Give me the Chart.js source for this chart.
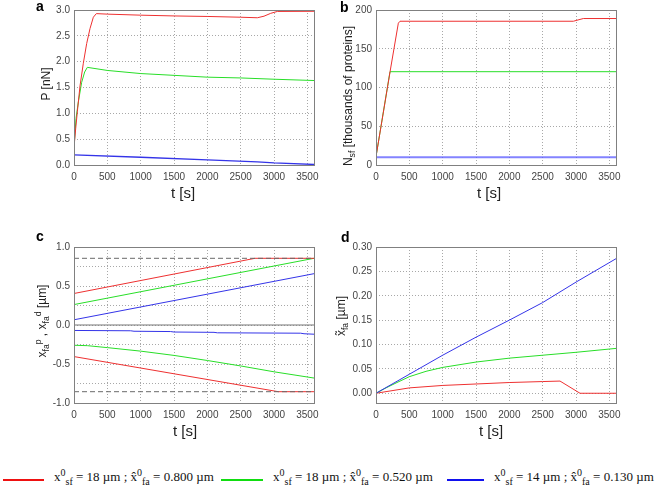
<!DOCTYPE html>
<html><head><meta charset="utf-8">
<script src="https://cdn.jsdelivr.net/npm/chart.js@4/dist/chart.umd.min.js"></script>
<style>
body{margin:0;background:#fff;width:656px;height:485px;position:relative;overflow:hidden;font-family:"Liberation Sans",Arial,sans-serif;}
canvas{position:absolute;}
.lbl{position:absolute;font:bold 14px "Liberation Sans",Arial,sans-serif;color:#000;line-height:16px;}
.xt{position:absolute;font-size:15px;color:#222;transform:translateX(-50%);white-space:nowrap;line-height:17px;}
.yt{position:absolute;font-size:12px;color:#222;white-space:nowrap;line-height:14px;transform:translate(-50%,-50%) rotate(-90deg);}
sub,sup{font-size:72%;line-height:0;}
.legline{position:absolute;height:1.5px;top:479px;}
.legtxt{position:absolute;top:469px;font:13px "Liberation Serif","Times New Roman",serif;line-height:15px;white-space:nowrap;color:#111;}
.legtxt sub,.legtxt sup{font-size:77%;}
</style></head>
<body>
<canvas id="ca" width="328" height="186" style="left:0;top:0"></canvas>
<canvas id="cb" width="310" height="186" style="left:320px;top:0"></canvas>
<canvas id="cc" width="328" height="187" style="left:0;top:237px"></canvas>
<canvas id="cd" width="310" height="187" style="left:320px;top:237px"></canvas>

<div class="lbl" style="left:36px;top:-2px">a</div>
<div class="lbl" style="left:340px;top:-1px">b</div>
<div class="lbl" style="left:36px;top:228px">c</div>
<div class="lbl" style="left:341px;top:229px">d</div>

<div class="xt" style="left:183px;top:184px">t [s]</div>
<div class="xt" style="left:489px;top:184px">t [s]</div>
<div class="xt" style="left:185px;top:422px">t [s]</div>
<div class="xt" style="left:491px;top:422px">t [s]</div>

<div class="yt" style="left:46px;top:84px">P [nN]</div>
<div class="yt" style="left:348px;top:96px">N<sub>sf</sub> [thousands of proteins]</div>
<div class="yt" style="left:42px;top:321px">x<sub>fa</sub><sup>p</sup> , x<sub>fa</sub><sup>d</sup> [µm]</div>
<div class="yt" style="left:341px;top:316px">x̃<sub>fa</sub> [µm]</div>

<div id="legend"></div>

<script>
// ---------- shared axis data ----------
const xTicks = [0, 500, 1000, 1500, 2000, 2500, 3000, 3500];
const tMax = 3600;

// ---------- panel a: P [nN] ----------
const aYTicks = [0, 0.5, 1.0, 1.5, 2.0, 2.5, 3.0];
const aRedT = [0, 25, 50, 90, 140, 190, 240, 290, 335, 500, 1000, 1500, 2000, 2500, 2750, 2850, 2950, 3050, 3600];
const aRedV = [0.34, 0.70, 1.03, 1.53, 1.97, 2.35, 2.64, 2.86, 2.93, 2.92, 2.90, 2.885, 2.875, 2.86, 2.85, 2.88, 2.935, 2.972, 2.975];
const aGreenT = [0, 30, 65, 115, 160, 200, 500, 1000, 1500, 2000, 2500, 3000, 3600];
const aGreenV = [0.34, 0.90, 1.22, 1.60, 1.80, 1.89, 1.83, 1.77, 1.735, 1.70, 1.685, 1.66, 1.635];
const aBlueT = [0, 1000, 2000, 2750, 3000, 3600];
const aBlueV = [0.195, 0.15, 0.10, 0.06, 0.04, 0.01];

// ---------- panel b: N_sf [thousands] ----------
const bYTicks = [0, 50, 100, 150, 200];
const bRedT = [0, 210, 335, 360, 2960, 3110, 3600];
const bRedV = [10.8, 120, 183, 185.5, 185.5, 189, 189];
const bGreenT = [0, 210, 3600];
const bGreenV = [10.8, 120.4, 120.4];
const bBlueT = [0, 3600];
const bBlueV = [10, 10];

// ---------- panel c: x_fa^p, x_fa^d [µm] ----------
const cYGrid = [-1, -0.75, -0.5, -0.25, 0, 0.25, 0.5, 0.75, 1];
const cYLabeled = [-1, -0.5, 0, 0.5, 1];
const cLimit = 0.855;
const cRedUpT = [0, 2715, 3600];
const cRedUpV = [0.404, 0.855, 0.855];
const cGreenUpT = [0, 3600];
const cGreenUpV = [0.262, 0.855];
const cBlueUpT = [0, 3600];
const cBlueUpV = [0.067, 0.658];
const cBlueLoT = [0, 850, 900, 1450, 1500, 2100, 2150, 3400, 3450, 3600];
const cBlueLoV = [-0.07, -0.074, -0.08, -0.084, -0.09, -0.094, -0.10, -0.105, -0.112, -0.118];
const cGreenLoT = [0, 200, 500, 1000, 1500, 2000, 2500, 3000, 3600];
const cGreenLoV = [-0.26, -0.265, -0.29, -0.335, -0.39, -0.455, -0.525, -0.60, -0.68];
const cRedLoT = [0, 3065, 3600];
const cRedLoV = [-0.405, -0.855, -0.855];

// ---------- panel d: x~_fa [µm] ----------
const dYTicks = [0, 0.05, 0.10, 0.15, 0.20, 0.25, 0.30];
const dBlueT = [0, 500, 1000, 1500, 2000, 2500, 3000, 3600];
const dBlueV = [0, 0.039, 0.078, 0.115, 0.15, 0.186, 0.228, 0.276];
const dGreenT = [0, 150, 300, 500, 750, 1000, 1500, 2000, 2500, 3000, 3600];
const dGreenV = [0, 0.011, 0.021, 0.034, 0.045, 0.053, 0.064, 0.072, 0.078, 0.084, 0.092];
const dRedT = [0, 500, 1000, 1500, 2000, 2500, 2760, 3060, 3600];
const dRedV = [0, 0.011, 0.016, 0.019, 0.022, 0.024, 0.025, 0, 0];

// ---------- legend ----------
const legSf = ['18', '18', '14'];
const legFa = ['0.800', '0.520', '0.130'];

// ---------- styles ----------
const RED = 'rgb(238,48,48)', GREEN = 'rgb(40,222,40)', BLUE = 'rgb(52,52,232)';
const legColors = ['#ee1111', '#11dd11', '#1111ee'];
const legLineX = [[3, 44], [221, 263], [447, 484]];
const legTextX = [54, 273, 494];

function pts(t, v) { return t.map((x, i) => ({ x: x, y: v[i] })); }
function line(t, v, color, width) {
  return { data: pts(t, v), borderColor: color, borderWidth: width || 1, pointRadius: 0, tension: 0, fill: false };
}

const boxPlugin = {
  id: 'box',
  afterDatasetsDraw(chart) {
    const a = chart.chartArea, ctx = chart.ctx;
    ctx.save();
    ctx.strokeStyle = '#808080';
    ctx.lineWidth = 1;
    ctx.setLineDash([]);
    const l = Math.round(a.left) + 0.5, t = Math.round(a.top) + 0.5;
    ctx.strokeRect(l, t, Math.round(a.right) - Math.round(a.left), Math.round(a.bottom) - Math.round(a.top));
    ctx.restore();
  }
};

const tickFont = { family: '"Liberation Sans",Arial,sans-serif', size: 10 };

function makeChart(id, datasets, yMin, yMax, yTicks, yFmt, yWidth) {
  new Chart(document.getElementById(id), {
    type: 'line',
    data: { datasets: datasets },
    options: {
      responsive: false, animation: false, devicePixelRatio: 1,
      layout: { padding: { top: 6, right: 14, left: 0, bottom: 0 } },
      plugins: { legend: { display: false }, tooltip: { enabled: false } },
      scales: {
        x: {
          type: 'linear', min: 0, max: tMax,
          afterBuildTicks: s => { s.ticks = xTicks.map(v => ({ value: v })); },
          afterFit: s => { s.height = 21; },
          grid: { color: '#a8a8a8', drawTicks: false, lineWidth: 1 },
          border: { display: false, dash: [1, 2] },
          ticks: { font: tickFont, color: '#444', padding: 6, autoSkip: false, maxRotation: 0, callback: v => String(v) }
        },
        y: {
          type: 'linear', min: yMin, max: yMax,
          afterBuildTicks: s => { s.ticks = yTicks.map(v => ({ value: v })); },
          afterFit: s => { s.width = yWidth; },
          grid: { color: '#a8a8a8', drawTicks: false, lineWidth: 1 },
          border: { display: false, dash: [1, 2] },
          ticks: { font: tickFont, color: '#444', padding: 4, autoSkip: false, callback: yFmt }
        }
      }
    },
    plugins: [boxPlugin]
  });
}

makeChart('ca', [
  line(aRedT, aRedV, RED), line(aGreenT, aGreenV, GREEN), line(aBlueT, aBlueV, BLUE, 1.3)
], 0, 3, aYTicks, v => v.toFixed(1), 74);

makeChart('cb', [
  line(bRedT, bRedV, RED), line(bGreenT, bGreenV, GREEN), line(bBlueT, bBlueV, 'rgba(90,90,255,0.75)', 2.2)
], 0, 200, bYTicks, v => String(v), 56);

const dashed = (sign) => Object.assign(line([0, tMax], [sign * cLimit, sign * cLimit], '#6a6a6a', 1), { borderDash: [5, 3] });
makeChart('cc', [
  line([0, tMax], [0, 0], '#777777', 1.2),
  dashed(1), dashed(-1),
  line(cRedUpT, cRedUpV, RED), line(cGreenUpT, cGreenUpV, GREEN), line(cBlueUpT, cBlueUpV, BLUE),
  line(cBlueLoT, cBlueLoV, BLUE), line(cGreenLoT, cGreenLoV, GREEN), line(cRedLoT, cRedLoV, RED)
], -1, 1, cYGrid, v => cYLabeled.some(w => Math.abs(w - v) < 1e-9) ? v.toFixed(1) : '', 74);

makeChart('cd', [
  line(dBlueT, dBlueV, BLUE), line(dGreenT, dGreenV, GREEN), line(dRedT, dRedV, RED)
], -0.02, 0.30, dYTicks, v => v.toFixed(2), 56);

// legend (HTML so sub/superscripts stay real text)
const legEl = document.getElementById('legend');
legSf.forEach((sf, i) => {
  const ln = document.createElement('div');
  ln.className = 'legline';
  ln.style.left = legLineX[i][0] + 'px';
  ln.style.width = (legLineX[i][1] - legLineX[i][0]) + 'px';
  ln.style.background = legColors[i];
  legEl.appendChild(ln);
  const tx = document.createElement('div');
  tx.className = 'legtxt';
  tx.style.left = legTextX[i] + 'px';
  tx.innerHTML = 'x<sup>0</sup><sub>sf</sub> = ' + sf + ' µm ; x̂<sup>0</sup><sub>fa</sub> = ' + legFa[i] + ' µm';
  legEl.appendChild(tx);
});
</script>
</body></html>
